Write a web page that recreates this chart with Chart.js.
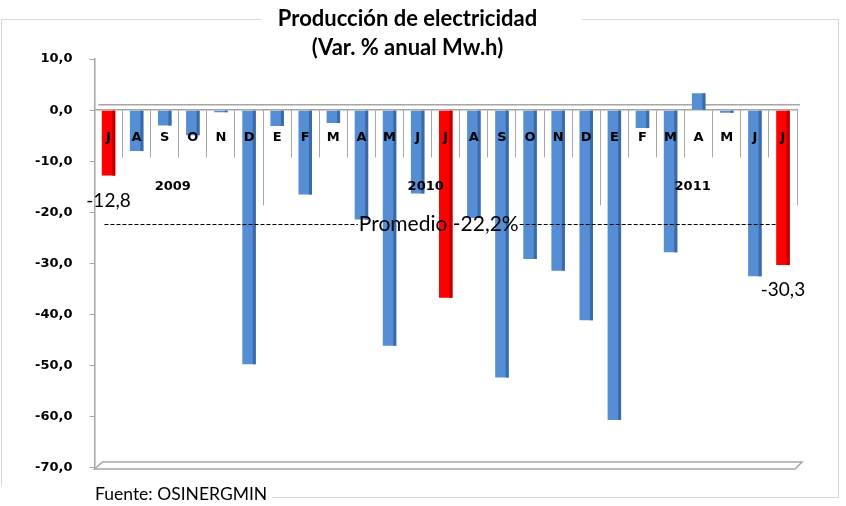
<!DOCTYPE html>
<html>
<head>
<meta charset="utf-8">
<script src="https://cdn.jsdelivr.net/npm/chart.js"></script>
<style>
  html, body { margin: 0; padding: 0; background: #fff; }
  #wrap { width: 846px; height: 506px; }
</style>
</head>
<body>
<div id="wrap"><canvas id="bar-chart"></canvas></div>
<script>
// meses de jul-2009 a jul-2011
const meses = ['J','A','S','O','N','D','E','F','M','A','M','J','J','A','S','O','N','D','E','F','M','A','M','J','J'];
const variacion = [-12.8, -8.0, -3.0, -4.9, -0.4, -49.7, -3.1, -16.5, -2.5, -21.4, -46.1, -16.3,
                   -36.7, -21.1, -52.3, -29.1, -31.4, -41.1, -60.6, -3.5, -27.8, 3.3, -0.5, -32.5, -30.3];
const destacados = [0, 12, 24];      // barras rojas (julio)
const etiquetados = [0, 24];         // barras con valor escrito
const anios = ['2009', '2010', '2011'];
const mesesPorAnio = [6, 12, 7];
const promedio = -22.2;
const yMin = -70, yMax = 10, yPaso = 10;

const azul = '#558ED5', azulLado = '#3B6BA6';
const rojo = '#FF0000', rojoLado = '#C00000';

function coma(v, dec) {
    return v.toFixed(dec).replace('.', ',');
}

const extras = {
    id: 'extras',
    beforeDraw(chart) {
        const c = chart.ctx;
        c.save();
        c.fillStyle = '#fff';
        c.fillRect(0, 0, chart.width, chart.height);
        c.strokeStyle = '#d9d9d9';
        c.lineWidth = 1;
        c.strokeRect(1.5, 19.5, 837, 478);
        c.fillStyle = '#fff';
        c.fillRect(262, 6, 320, 26);
        c.fillRect(0, 486, 272, 20);
        c.restore();
    },
    beforeDatasetsDraw(chart) {
        const c = chart.ctx, a = chart.chartArea, x = chart.scales.x, y = chart.scales.y;
        const y0 = y.getPixelForValue(0);
        c.save();
        c.strokeStyle = '#a6a6a6';
        c.lineWidth = 1.5;
        // borde trasero del piso en 0
        c.beginPath();
        c.moveTo(a.left + 4, y0 - 5.5);
        c.lineTo(a.right + 3, y0 - 5.5);
        c.stroke();
        // piso inferior
        c.beginPath();
        c.moveTo(a.left, a.bottom + 1);
        c.lineTo(a.left + 8, a.bottom - 6);
        c.lineTo(a.right + 5, a.bottom - 6);
        c.lineTo(a.right - 2, a.bottom + 1);
        c.closePath();
        c.stroke();
        // separadores de años
        c.lineWidth = 1;
        const half = (x.getPixelForValue(1) - x.getPixelForValue(0)) / 2;
        let idx = 0;
        const bounds = [0];
        mesesPorAnio.forEach(n => { idx += n; bounds.push(idx); });
        bounds.forEach(b => {
            const px = Math.round(x.getPixelForValue(b) - half) + 0.5;
            c.beginPath();
            c.moveTo(px, y0);
            c.lineTo(px, y0 + 95);
            c.stroke();
        });
        c.restore();
    },
    afterDatasetsDraw(chart) {
        const c = chart.ctx, a = chart.chartArea, x = chart.scales.x, y = chart.scales.y;
        const meta = chart.getDatasetMeta(0);
        c.save();
        // lado oscuro de las barras (efecto 3D)
        meta.data.forEach((bar, i) => {
            const top = Math.min(bar.y, bar.base), bot = Math.max(bar.y, bar.base);
            c.fillStyle = destacados.includes(i) ? rojoLado : azulLado;
            c.fillRect(bar.x + bar.width / 2 - 3, top, 3, bot - top);
        });
        // años
        c.fillStyle = '#000';
        c.font = 'bold 13px "DejaVu Sans"';
        c.textAlign = 'center';
        c.textBaseline = 'middle';
        const y0 = y.getPixelForValue(0);
        let start = 0;
        anios.forEach((t, k) => {
            const mid = start + (mesesPorAnio[k] - 1) / 2;
            c.fillText(t, x.getPixelForValue(mid) - 6, y0 + 76);
            start += mesesPorAnio[k];
        });
        // valores de las barras extremas
        c.font = '19px Lato';
        etiquetados.forEach(i => {
            const bar = meta.data[i];
            c.fillText(coma(variacion[i], 1), bar.x, bar.y + 25);
        });
        // linea de promedio
        const yp = Math.round(y.getPixelForValue(promedio)) + 0.5;
        const txt = 'Promedio ' + coma(promedio, 1) + '%';
        c.font = '21px Lato';
        const cx = (a.left + a.right) / 2 - 7;
        const w = c.measureText(txt).width;
        c.strokeStyle = '#000';
        c.lineWidth = 1;
        c.setLineDash([4, 2]);
        c.beginPath();
        c.moveTo(a.left + 10, yp);
        c.lineTo(cx - w / 2 - 1, yp);
        c.moveTo(cx + w / 2 + 1, yp);
        c.lineTo(a.right - 20, yp);
        c.stroke();
        c.setLineDash([]);
        c.fillText(txt, cx, yp);
        // fuente
        c.textAlign = 'left';
        c.font = '17.5px Lato';
        c.fillText('Fuente: OSINERGMIN', 95, 494);
        c.restore();
    }
};

new Chart(document.getElementById('bar-chart'), {
    type: 'bar',
    data: {
        labels: meses,
        datasets: [{
            data: variacion,
            xAxisID: 'x',
            yAxisID: 'y',
            backgroundColor: variacion.map((v, i) => destacados.includes(i) ? rojo : azul),
            borderWidth: 0,
            categoryPercentage: 1,
            barPercentage: 0.48
        }]
    },
    options: {
        responsive: true,
        maintainAspectRatio: false,
        animation: false,
        layout: { padding: { left: 18, right: 49, top: 0, bottom: 38 } },
        plugins: {
            legend: { display: false },
            tooltip: { enabled: false },
            title: {
                display: true,
                text: ['Producción de electricidad', '(Var. % anual Mw.h)'],
                color: '#000',
                font: { family: 'Lato', size: 22, weight: 'bold', lineHeight: 1.32 },
                padding: { top: 4, bottom: -3 }
            }
        },
        scales: {
            x: {
                position: { y: 0 },
                offset: true,
                grid: { display: true, drawOnChartArea: false, offset: true, tickLength: 47, color: '#a6a6a6' },
                border: { display: true, color: '#a6a6a6', width: 1.5 },
                ticks: { display: false }
            },
            // letras de los meses, dibujadas encima de las barras
            x2: {
                type: 'category',
                position: { y: 0 },
                offset: true,
                grid: { display: false, drawTicks: false },
                border: { display: false },
                ticks: {
                    z: 1,
                    color: '#000',
                    font: { family: 'DejaVu Sans', size: 13, weight: 'bold' },
                    padding: 20,
                    maxRotation: 0,
                    autoSkip: false
                }
            },
            y: {
                min: yMin,
                max: yMax,
                grid: { drawOnChartArea: false, tickLength: 5, color: '#a6a6a6' },
                border: { color: '#a6a6a6', width: 1.5 },
                ticks: {
                    stepSize: yPaso,
                    color: '#000',
                    padding: 17,
                    font: { family: 'DejaVu Sans', size: 13, weight: 'bold' },
                    callback: v => coma(v, 1)
                }
            }
        }
    },
    plugins: [extras]
});
</script>
</body>
</html>
